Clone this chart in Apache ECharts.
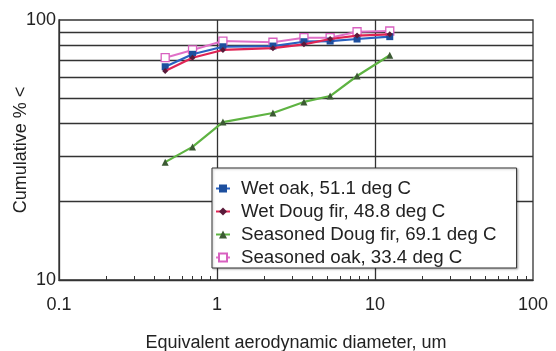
<!DOCTYPE html>
<html><head><meta charset="utf-8">
<script src="https://cdn.jsdelivr.net/npm/echarts@6/dist/echarts.min.js"></script>
<style>html,body{margin:0;padding:0;background:#fff}#c{width:556px;height:351px}</style>
</head><body><div id="c"></div>
<script>
const diameters = [0.47, 0.70, 1.09, 2.26, 3.55, 5.2, 7.7, 12.4];
const wetOak = [66.1, 73.8, 78.9, 79.4, 82.5, 83.0, 84.5, 86.3];
const wetDougFir = [63.7, 71.6, 76.7, 77.9, 80.6, 84.5, 87.1, 88.1];
const seasonedDougFir = [28.4, 32.5, 40.5, 43.9, 48.4, 51.0, 60.9, 73.2];
const seasonedOak = [71.6, 76.7, 83.0, 82.1, 85.5, 85.5, 90.1, 90.7];
const seriesNames = ['Wet oak, 51.1 deg C', 'Wet Doug fir, 48.8 deg C', 'Seasoned Doug fir, 69.1 deg C', 'Seasoned oak, 33.4 deg C'];
const xLabels = [0.1, 1, 10, 100];
const yLabels = [10, 100];
const yGridValues = [20, 30, 40, 50, 60, 70, 80, 90];
const xGridValues = [1, 10];
const xMinorTicks = [0.2,0.3,0.4,0.5,0.6,0.7,0.8,0.9,2,3,4,5,6,7,8,9,20,30,40,50,60,70,80,90];

const FONT = "'Liberation Sans', Arial, sans-serif";
const pair = (arr) => diameters.map((d, i) => [d, arr[i]]);

const chart = echarts.init(document.getElementById('c'), null, {renderer: 'canvas'});
const gridLine = {color: '#333', width: 1.3, type: 'solid'};
chart.setOption({
  animation: false,
  backgroundColor: '#fff',
  textStyle: {fontFamily: FONT},
  grid: {left: 59, right: 23, top: 20, bottom: 71, show: true, borderColor: '#333', borderWidth: 1.3,
         backgroundColor: 'transparent', outerBoundsMode: 'none', containLabel: false},
  xAxis: {
    type: 'log', logBase: 10, min: 0.1, max: 100,
    name: 'Equivalent aerodynamic diameter, um', nameLocation: 'middle', nameGap: 54, nameMoveOverlap: false,
    nameTextStyle: {fontSize: 18, color: '#222', fontFamily: FONT},
    axisLine: {show: true, lineStyle: {color: '#333', width: 1.3}},
    axisTick: {show: true, inside: true, length: 4, customValues: xMinorTicks, lineStyle: {color: '#333', width: 1}},
    axisLabel: {fontSize: 18, color: '#222', margin: 16, fontFamily: FONT, customValues: xLabels, formatter: v => String(v)},
    splitLine: {show: false}
  },
  yAxis: {
    type: 'log', logBase: 10, min: 10, max: 100,
    name: 'Cumulative % <', nameLocation: 'middle', nameGap: 29, nameMoveOverlap: false,
    nameTextStyle: {fontSize: 18, color: '#222', fontFamily: FONT},
    axisLine: {show: true, lineStyle: {color: '#333', width: 1.3}},
    axisTick: {show: false},
    axisLabel: {fontSize: 18, color: '#222', margin: 3, fontFamily: FONT, customValues: yLabels, formatter: v => String(v)},
    splitLine: {show: false}
  },
  legend: {
    orient: 'vertical', left: 212, top: 168, z: 10,
    data: seriesNames,
    backgroundColor: '#fff', borderColor: '#333', borderWidth: 1,
    shadowColor: 'rgba(0,0,0,0.25)', shadowBlur: 2, shadowOffsetX: 1, shadowOffsetY: 1,
    padding: [11, 20, 1, 3],
    itemWidth: 14, itemHeight: 10, itemGap: 4,
    textStyle: {fontSize: 18.7, color: '#222', fontFamily: FONT, lineHeight: 18, padding: [0, 0, 0, 6]}
  },
  series: [
    {
      type: 'line', name: 'grid', data: [], z: 1, silent: true,
      markLine: {
        silent: true, symbol: 'none', label: {show: false}, animation: false, z: 1,
        lineStyle: gridLine,
        data: yGridValues.map(v => ({yAxis: v})).concat(xGridValues.map(v => ({xAxis: v})))
      }
    },
    {
      type: 'line', name: seriesNames[0], data: pair(wetOak), z: 3,
      lineStyle: {color: '#2a62c0', width: 2.2},
      itemStyle: {color: '#1d4f9e'},
      symbol: 'rect', symbolSize: 7, showSymbol: true
    },
    {
      type: 'line', name: seriesNames[1], data: pair(wetDougFir), z: 4,
      lineStyle: {color: '#e02454', width: 2.2},
      itemStyle: {color: '#5a1a3a'},
      symbol: 'diamond', symbolSize: 6
    },
    {
      type: 'line', name: seriesNames[2], data: pair(seasonedDougFir), z: 3,
      lineStyle: {color: '#5eb342', width: 2.2},
      itemStyle: {color: '#3c5a34'},
      symbol: 'triangle', symbolSize: 7
    },
    {
      type: 'line', name: seriesNames[3], data: pair(seasonedOak), z: 2,
      lineStyle: {color: '#e070c8', width: 2},
      itemStyle: {color: '#fff', borderColor: '#d860c0', borderWidth: 1.3},
      symbol: 'rect', symbolSize: 8
    }
  ]
});
</script></body></html>
